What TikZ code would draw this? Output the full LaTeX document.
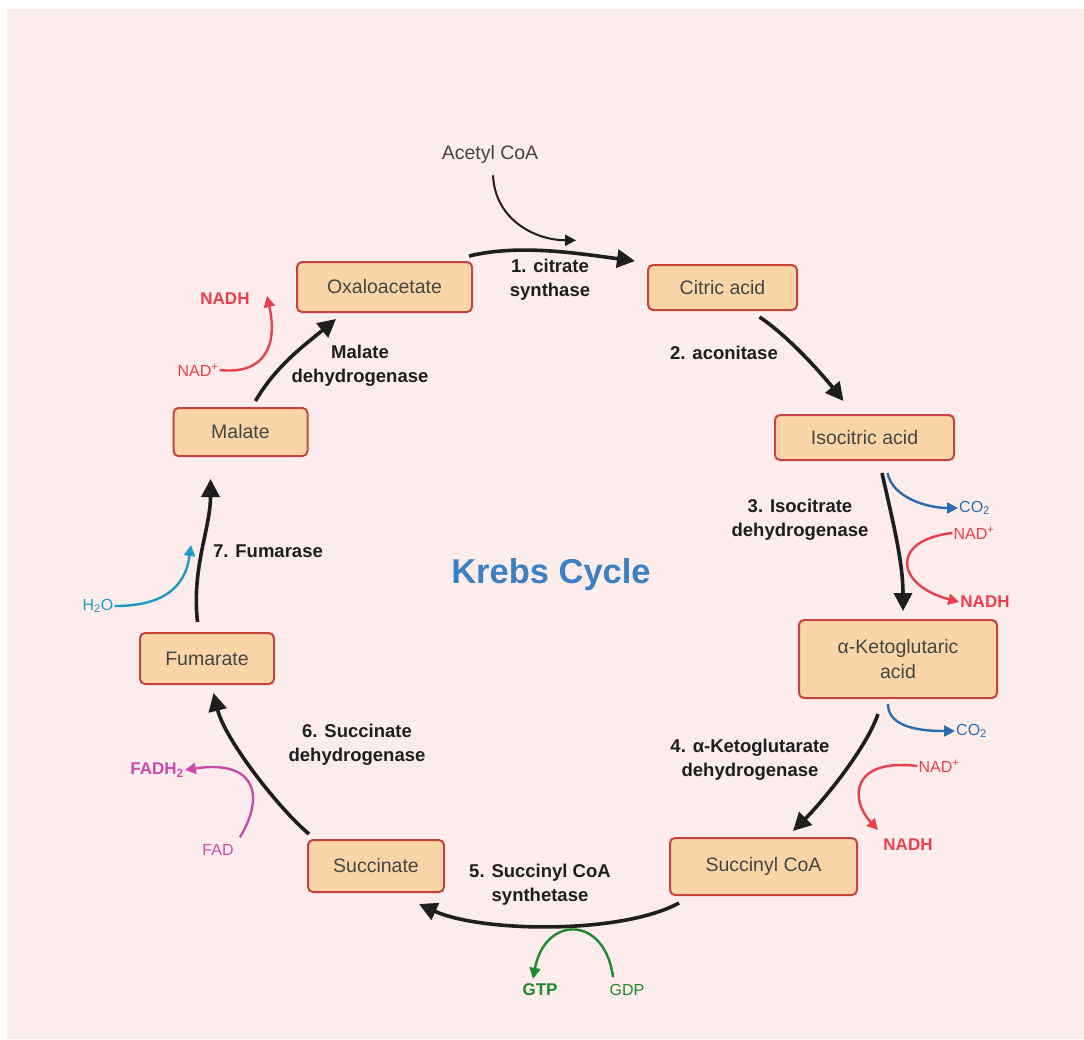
\documentclass[tikz,border=0pt]{standalone}
\usepackage{fontspec}
\setmainfont{Liberation Sans}
\usetikzlibrary{arrows.meta,calc}
\definecolor{bgpink}{HTML}{FDECEC}
\definecolor{boxfill}{HTML}{F9D5A7}
\definecolor{boxline}{HTML}{C8423E}
\definecolor{txtgray}{HTML}{454545}
\definecolor{arrblack}{HTML}{1E1E1E}
\definecolor{cred}{HTML}{E8414B}
\definecolor{cblue}{HTML}{2B6CB0}
\definecolor{ccyan}{HTML}{1B9CC4}
\definecolor{cmag}{HTML}{C94BAE}
\definecolor{cgreen}{HTML}{1E8A2C}
\definecolor{ctitle}{HTML}{3A80C3}
\tikzset{
  metab/.style={draw=boxline, line width=2pt, fill=boxfill, rounded corners=5pt,
    text=txtgray, font=\fontsize{19.5}{23}\selectfont, align=center, inner sep=0pt},
  enz/.style={text=arrblack, font=\bfseries\fontsize{18.5}{24}\selectfont, align=center, inner sep=0pt},
  cof/.style={font=\fontsize{16}{19}\selectfont, inner sep=1pt},
  cofb/.style={font=\bfseries\fontsize{17}{19}\selectfont, inner sep=1pt},
  mainarr/.style={draw=arrblack, line width=3.6pt, -{Triangle[length=18pt,width=18pt]}},
  sidearr/.style={line width=2.4pt, -{Triangle[length=11pt,width=11pt]}},
}
\begin{document}
\begin{tikzpicture}[x=1pt,y=-1pt]
\useasboundingbox (0,0) rectangle (1084,1039);
\fill[bgpink] (7,9) rectangle (1084,1039);

% metabolites
\node[metab, minimum width=175, minimum height=50] (oxa) at (384.5,287) {Oxaloacetate};
\node[metab, minimum width=149, minimum height=45] (cit) at (722.5,287.5) {Citric acid};
\node[metab, minimum width=179, minimum height=45] (iso) at (864.5,437.5) {Isocitric acid};
\node[metab, minimum width=198, minimum height=78] (akg) at (898,659) {α-Ketoglutaric\\[2pt]acid};
\node[metab, minimum width=187, minimum height=57] (suc) at (763.5,866.5) {Succinyl CoA};
\node[metab, minimum width=136, minimum height=52] (succ) at (376,866) {Succinate};
\node[metab, minimum width=134, minimum height=51] (fum) at (207,658.5) {Fumarate};
\node[metab, minimum width=134, minimum height=48] (mal) at (240.5,432) {Malate};

% title
\node[text=ctitle, font=\bfseries\fontsize{34.5}{40}\selectfont] (title) at (551,575) {Krebs Cycle};

% enzyme labels
\node[enz] (lab1) at (550,280) {1. citrate\\synthase};
\node[enz] (lab2) at (724,353) {2. aconitase};
\node[enz] (lab3) at (800,520) {3. Isocitrate\\dehydrogenase};
\node[enz] (lab4) at (750,760) {4. α-Ketoglutarate\\dehydrogenase};
\node[enz] (lab5) at (540,885) {5. Succinyl CoA\\synthetase};
\node[enz] (lab6) at (357,745) {6. Succinate\\dehydrogenase};
\node[enz] (lab7) at (268,551) {7. Fumarase};
\node[enz] (lab8) at (360,366) {Malate\\dehydrogenase};

% cofactors
\node[cof, text=txtgray, font=\fontsize{19.5}{22}\selectfont] (acetyl) at (490,154) {Acetyl CoA};
\node[cof, text=cblue, anchor=west] (co2a) at (958,508) {CO\textsubscript{2}};
\node[cof, text=cred] (nad1) at (974,533) {NAD\textsuperscript{+}};
\node[cofb, text=cred] (nadh1) at (985,602) {NADH};
\node[cof, text=cblue, anchor=west] (co2b) at (955,731) {CO\textsubscript{2}};
\node[cof, text=cred] (nad2) at (939,766) {NAD\textsuperscript{+}};
\node[cofb, text=cred] (nadh2) at (908,845) {NADH};
\node[cofb, text=cgreen] (gtp) at (540,990) {GTP};
\node[cof, text=cgreen] (gdp) at (627,990) {GDP};
\node[cofb, text=cmag] (fadh) at (157,770) {FADH\textsubscript{2}};
\node[cof, text=cmag] (fad) at (218,850) {FAD};
\node[cof, text=ccyan] (h2o) at (98,606) {H\textsubscript{2}O};
\node[cof, text=cred] (nad3) at (198,370) {NAD\textsuperscript{+}};
\node[cofb, text=cred] (nadh3) at (225,299) {NADH};

% main cycle arrows
\draw[mainarr] ([shift={(-4,-5)}]oxa.north east) .. controls +(50,-12) and +(-60,-8) .. ([shift={(-12,-3)}]cit.north west);
\draw[mainarr] ([shift={(37,6)}]cit.south) .. controls +(30,20) and +(-20,-25) .. ([shift={(-21,-13)}]iso.north);
\draw[mainarr] ([shift={(17.5,12)}]iso.south) .. controls +(10,45) and +(0,-50) .. ([shift={(5,-8)}]akg.north);
\draw[mainarr] ([shift={(-20,15)}]akg.south) .. controls +(-12,35) and +(30,-30) .. ([shift={(29.5,-6)}]suc.north);
\draw[mainarr] ([shift={(10,7)}]suc.south west) .. controls (620,935) and (480,932) .. ([shift={(-26,11)}]succ.south east);
\draw[mainarr] ([shift={(2,-5)}]succ.north west) .. controls (280,810) and (225,740) .. ([shift={(6.5,8)}]fum.south);
\draw[mainarr] ([shift={(-9.5,-10)}]fum.north) .. controls +(-6,-55) and +(0,50) .. ([shift={(-30,22)}]mal.south);
\draw[mainarr] ([shift={(15,-6)}]mal.north) .. controls +(20,-35) and +(-30,25) .. ([shift={(40,6)}]oxa.south west);

% acetyl CoA input
\draw[sidearr, draw=arrblack, line width=2pt] ([shift={(3,11)}]acetyl.south) .. controls +(2,45) and +(-40,0) .. ([shift={(86,76)}]acetyl.south);

% side arrows
\draw[sidearr, draw=cblue] ([shift={(23,12)}]iso.south) .. controls +(5,25) and +(-30,0) .. (co2a.west);
\draw[sidearr, draw=cred] (nad1.west) .. controls (890,540) and (895,585) .. (nadh1.west);
\draw[sidearr, draw=cblue] ([shift={(-10,5)}]akg.south) .. controls +(0,25) and +(-30,0) .. (co2b.west);
\draw[sidearr, draw=cred] (nad2.west) .. controls (850,758) and (850,800) .. ([shift={(-30,-8)}]nadh2.north);
\draw[sidearr, draw=cgreen] ([shift={(-14,-6)}]gdp.north) .. controls (605,915) and (545,915) .. ([shift={(-7,-4)}]gtp.north);
\draw[sidearr, draw=cmag] ([shift={(22,-6)}]fad.north) .. controls (268,790) and (250,760) .. (fadh.east);
\draw[sidearr, draw=ccyan] (h2o.east) .. controls (160,606) and (185,590) .. ([shift={(-22,-6)}]lab7.west);
\draw[sidearr, draw=cred] (nad3.east) .. controls (265,375) and (278,345) .. ([shift={(42,-10)}]nadh3.south);
\end{tikzpicture}
\end{document}
